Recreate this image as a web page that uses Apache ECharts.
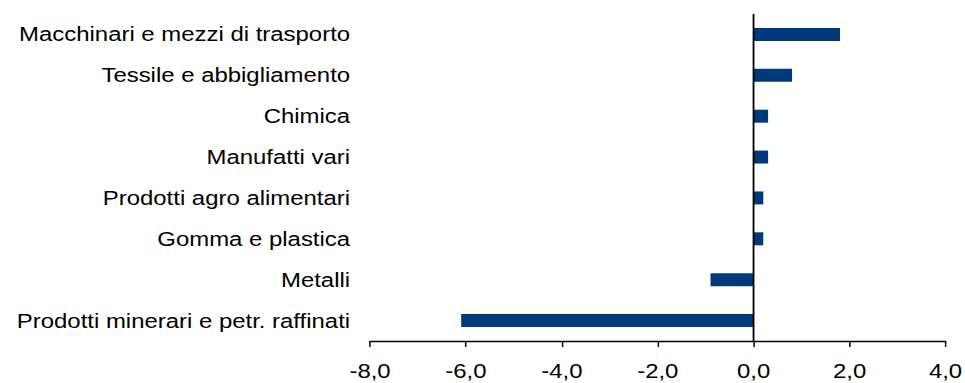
<!DOCTYPE html>
<html>
<head>
<meta charset="utf-8">
<script src="https://cdn.jsdelivr.net/npm/echarts@6/dist/echarts.min.js"></script>
<style>
  html, body { margin: 0; padding: 0; background: #fff; overflow: hidden; }
  #wrap { width: 965px; height: 383px; overflow: hidden; }
  /* the chart is drawn slightly narrower and widened, giving the broad lettering */
  #chart { width: 846.5px; height: 383px; transform: scaleX(1.14); transform-origin: 0 0; }
</style>
</head>
<body>
<div id="wrap"><div id="chart"></div></div>
<script>
// Sectors, listed top to bottom
var categories = [
  'Macchinari e mezzi di trasporto',
  'Tessile e abbigliamento',
  'Chimica',
  'Manufatti vari',
  'Prodotti agro alimentari',
  'Gomma e plastica',
  'Metalli',
  'Prodotti minerari e petr. raffinati'
];
// Change per sector
var values = [1.8, 0.8, 0.3, 0.3, 0.2, 0.2, -0.9, -6.1];
// Horizontal value axis range
var axisMin = -8;
var axisMax = 4;
var axisStep = 2;

var chart = echarts.init(document.getElementById('chart'), null, { renderer: 'svg' });
var fontFamily = 'Liberation Sans, Arial, sans-serif';

chart.setOption({
  animation: false,
  grid: { left: 324.6, right: 16.7, top: 14, bottom: 42, containLabel: false },
  xAxis: {
    type: 'value',
    min: axisMin,
    max: axisMax,
    interval: axisStep,
    splitLine: { show: false },
    axisLine: { show: true, onZero: false, lineStyle: { color: '#000', width: 1.3 } },
    axisTick: { show: true, length: 6, lineStyle: { color: '#000', width: 1.3 } },
    axisLabel: {
      color: '#000',
      fontSize: 21,
      fontFamily: fontFamily,
      margin: 19,
      formatter: function (v) { return v.toFixed(1).replace('.', ','); }
    }
  },
  yAxis: {
    type: 'category',
    data: categories,
    inverse: true,
    axisLine: { show: false },
    axisTick: { show: false },
    axisLabel: {
      color: '#000',
      fontSize: 21,
      fontFamily: fontFamily,
      margin: 17.5
    }
  },
  series: [{
    type: 'bar',
    data: values,
    barWidth: 13,
    itemStyle: { color: '#003a7a' },
    markLine: {
      silent: true,
      symbol: 'none',
      label: { show: false },
      lineStyle: { color: '#000', width: 1.6, type: 'solid' },
      data: [{ xAxis: 0 }]
    }
  }]
});
</script>
</body>
</html>
